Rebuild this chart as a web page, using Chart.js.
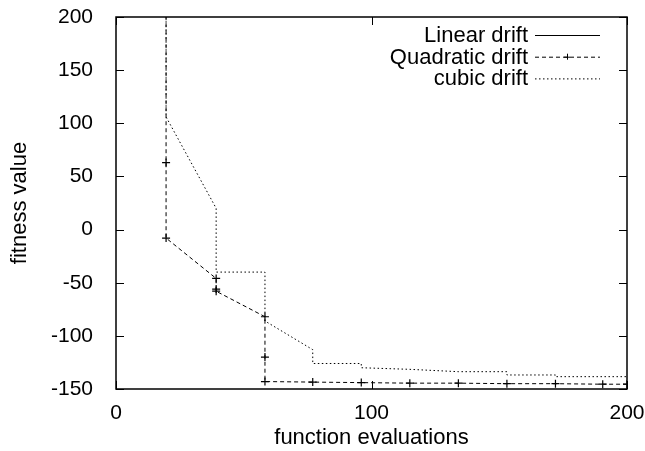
<!DOCTYPE html>
<html>
<head>
<meta charset="utf-8">
<script src="https://cdn.jsdelivr.net/npm/chart.js@4/dist/chart.umd.min.js"></script>
<style>
  html, body { margin: 0; padding: 0; background: #fff; }
  #wrap { width: 645px; height: 451px; }
</style>
</head>
<body>
<div id="wrap"><canvas id="chart" width="645" height="451"></canvas></div>
<script>
// series (x = function evaluations, y = fitness value)
var seriesNames = ['Linear drift', 'Quadratic drift', 'cubic drift'];

var linearEvals = [];
var linearValues = [];

var quadEvals = [19.6, 19.6, 19.6, 39.2, 39.2, 39.2, 58.3, 58.3, 58.3, 77, 96, 115, 134, 153, 172, 190.5, 200];
var quadValues = [260, 63, -8, -46, -56, -58, -82, -120, -143, -143.5, -144, -144.5, -144.5, -145, -145, -145.5, -145.5];

var cubicEvals = [19.6, 19.6, 39.2, 39.2, 58.3, 58.3, 77, 77, 96, 96, 115, 134, 153, 153, 172, 172, 200];
var cubicValues = [260, 106, 20, -40, -40, -86, -113, -126, -126, -130, -131.5, -133.7, -133.7, -136.8, -136.8, -138.4, -138.4];

var xTicks = [0, 100, 200];
var yTicks = [-150, -100, -50, 0, 50, 100, 150, 200];

var fontName = '"Liberation Sans", Arial, sans-serif';

function toPoints(xs, ys) {
    var out = [];
    for (var i = 0; i < xs.length; i++) out.push({x: xs[i], y: ys[i]});
    return out;
}

// gnuplot style frame with inward ticks and a legend in the corner
var framePlugin = {
    id: 'frame',
    afterDraw: function (chart) {
        var ctx = chart.ctx;
        var a = chart.chartArea;
        var xs = chart.scales.x, ys = chart.scales.y;
        ctx.save();
        ctx.strokeStyle = '#000';
        ctx.lineWidth = 1.5;
        ctx.setLineDash([]);
        ctx.strokeRect(a.left, a.top, a.right - a.left, a.bottom - a.top);
        ctx.lineWidth = 1;
        var len = 8;
        yTicks.forEach(function (v) {
            var py = Math.round(ys.getPixelForValue(v)) + 0.5;
            ctx.beginPath();
            ctx.moveTo(a.left, py); ctx.lineTo(a.left + len, py);
            ctx.moveTo(a.right, py); ctx.lineTo(a.right - len, py);
            ctx.stroke();
        });
        xTicks.forEach(function (v) {
            var px = Math.round(xs.getPixelForValue(v)) + 0.5;
            ctx.beginPath();
            ctx.moveTo(px, a.bottom); ctx.lineTo(px, a.bottom - len);
            ctx.moveTo(px, a.top); ctx.lineTo(px, a.top + len);
            ctx.stroke();
        });

        // legend
        ctx.font = '22px ' + fontName;
        ctx.fillStyle = '#000';
        ctx.textAlign = 'right';
        ctx.textBaseline = 'middle';
        chart.data.datasets.forEach(function (ds, i) {
            var y = 35 + i * 21.7;
            ctx.fillText(ds.label, 528, y + 1);
            ctx.setLineDash(ds.borderDash || []);
            ctx.beginPath();
            ctx.moveTo(535, y + 0.5); ctx.lineTo(600, y + 0.5);
            ctx.stroke();
            if (ds.pointRadius > 0) {
                ctx.setLineDash([]);
                ctx.beginPath();
                ctx.moveTo(567 - 3, y + 0.5); ctx.lineTo(567 + 3, y + 0.5);
                ctx.moveTo(567.5, y - 3); ctx.lineTo(567.5, y + 3);
                ctx.stroke();
            }
        });
        ctx.restore();
    }
};

var ctx = document.getElementById('chart').getContext('2d');
var chart = new Chart(ctx, {
    type: 'line',
    data: {
        datasets: [{
            label: seriesNames[0],
            data: toPoints(linearEvals, linearValues),
            borderColor: '#000',
            borderWidth: 1,
            pointRadius: 0,
            fill: false
        }, {
            label: seriesNames[1],
            data: toPoints(quadEvals, quadValues),
            borderColor: '#000',
            borderWidth: 1,
            borderDash: [4, 3],
            pointStyle: 'cross',
            pointRadius: 4,
            pointBorderColor: '#000',
            pointBorderWidth: 1.2,
            fill: false
        }, {
            label: seriesNames[2],
            data: toPoints(cubicEvals, cubicValues),
            borderColor: '#000',
            borderWidth: 1,
            borderDash: [1.5, 2.5],
            pointRadius: 0,
            fill: false
        }]
    },
    options: {
        responsive: false,
        animation: false,
        layout: { padding: { top: 17, right: 18, left: 0, bottom: 0 } },
        plugins: {
            legend: { display: false },
            tooltip: { enabled: false }
        },
        scales: {
            x: {
                type: 'linear',
                min: 0, max: 200,
                afterBuildTicks: function (s) { s.ticks = xTicks.map(function (v) { return {value: v}; }); },
                afterFit: function (s) { s.height = 62; s.paddingLeft = 0; s.paddingRight = 0; },
                grid: { display: false },
                border: { display: false },
                ticks: { color: '#000', font: { family: fontName, size: 21 }, padding: 4, maxRotation: 0 },
                title: { display: true, text: 'function evaluations', color: '#000', font: { family: fontName, size: 22 }, padding: { top: 0, bottom: 0 } }
            },
            y: {
                min: -150, max: 200,
                afterBuildTicks: function (s) { s.ticks = yTicks.map(function (v) { return {value: v}; }); },
                afterFit: function (s) { s.width = 116; s.paddingTop = 0; s.paddingBottom = 0; },
                grid: { display: false },
                border: { display: false },
                ticks: { color: '#000', font: { family: fontName, size: 21 }, padding: 15 },
                title: { display: true, text: 'fitness value', color: '#000', font: { family: fontName, size: 22 }, padding: { top: 7, bottom: 0 } }
            }
        }
    },
    plugins: [framePlugin]
});
</script>
</body>
</html>
